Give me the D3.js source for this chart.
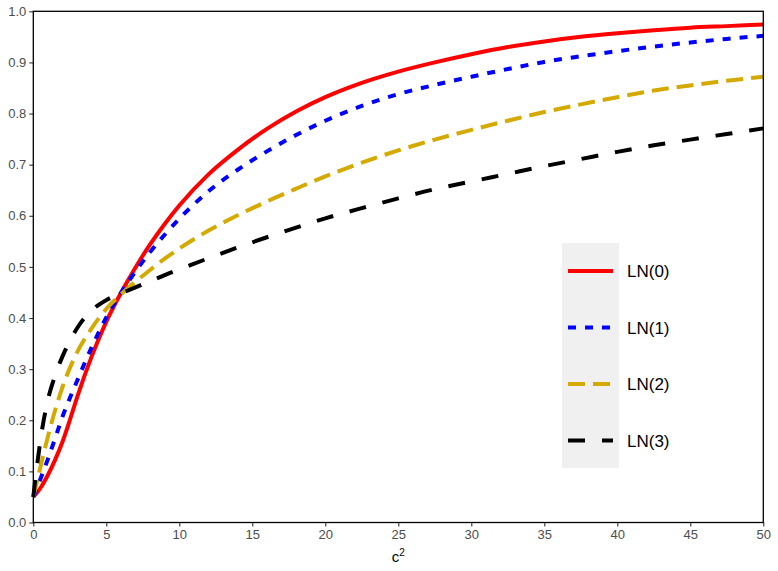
<!DOCTYPE html>
<html>
<head>
<meta charset="utf-8">
<script src="https://cdn.jsdelivr.net/npm/d3@7"></script>
<style>
  body { margin: 0; background: #fff; }
  svg { font-family: "Liberation Sans", Arial, sans-serif; }
</style>
</head>
<body>
<div id="chart"></div>
<script>
// c^2 grid shared by all series
const cVals = [0, 0.25, 0.5, 1, 1.5, 2, 2.5, 3, 4, 5, 6, 7, 8, 9, 10, 12, 14, 16, 18, 20,
  22.5, 25, 27.5, 30, 32.5, 35, 37.5, 40, 42.5, 45, 47.5, 50];

const ln0 = [0.05, 0.058, 0.068, 0.093, 0.123, 0.158, 0.2, 0.245, 0.325, 0.393, 0.449, 0.499, 0.544, 0.584, 0.62, 0.681,
  0.729, 0.77, 0.804, 0.832, 0.86, 0.882, 0.9, 0.916, 0.93, 0.941, 0.95, 0.957, 0.963, 0.968, 0.971, 0.974];
const ln1 = [0.05, 0.067, 0.086, 0.124, 0.165, 0.207, 0.243, 0.277, 0.343, 0.401, 0.449, 0.491, 0.529, 0.563, 0.594, 0.648,
  0.69, 0.726, 0.758, 0.786, 0.815, 0.838, 0.856, 0.872, 0.887, 0.901, 0.912, 0.922, 0.931, 0.939, 0.946, 0.952];
const ln2 = [0.05, 0.08, 0.11, 0.168, 0.22, 0.265, 0.302, 0.333, 0.38, 0.418, 0.446, 0.471, 0.494, 0.516, 0.536, 0.571,
  0.601, 0.628, 0.653, 0.677, 0.704, 0.728, 0.749, 0.768, 0.786, 0.803, 0.818, 0.832, 0.845, 0.855, 0.864, 0.872];
const ln3 = [0.05, 0.11, 0.163, 0.24, 0.288, 0.325, 0.355, 0.38, 0.415, 0.435, 0.448, 0.46, 0.472, 0.484, 0.495, 0.517,
  0.538, 0.558, 0.577, 0.595, 0.615, 0.634, 0.652, 0.667, 0.682, 0.697, 0.711, 0.725, 0.738, 0.749, 0.76, 0.771];

const seriesNames = ["LN(0)", "LN(1)", "LN(2)", "LN(3)"];
const seriesVals = [ln0, ln1, ln2, ln3];
const colors = ["#ff0000", "#0000ff", "#d4aa00", "#000000"];
const dashes = [null, "8,9", "17,8", "17,17"];

const xTicks = [0, 5, 10, 15, 20, 25, 30, 35, 40, 45, 50];
const yTicks = [0, 0.1, 0.2, 0.3, 0.4, 0.5, 0.6, 0.7, 0.8, 0.9, 1.0];

const width = 778;
const height = 571;
const panel = { left: 33.3, right: 763.3, top: 11.3, bottom: 522.5 };

const svg = d3.select("#chart")
    .append("svg")
    .attr("width", width)
    .attr("height", height);

const x = d3.scaleLinear().domain([0, 50]).range([panel.left, panel.right]);
const y = d3.scaleLinear().domain([0, 1]).range([panel.bottom, panel.top]);

// axes
const xAxis = svg.append("g")
    .attr("transform", `translate(0,${panel.bottom})`)
    .call(d3.axisBottom(x).tickValues(xTicks).tickSize(4).tickPadding(3).tickFormat(d3.format("d")));
const yAxis = svg.append("g")
    .attr("transform", `translate(${panel.left},0)`)
    .call(d3.axisLeft(y).tickValues(yTicks).tickSize(4).tickPadding(3).tickFormat(d3.format(".1f")));

[xAxis, yAxis].forEach(ax => {
    ax.select(".domain").remove();
    ax.selectAll(".tick line").attr("stroke", "#333").attr("stroke-width", 1.1);
    ax.selectAll(".tick text")
        .attr("fill", "#4d4d4d")
        .style("font-size", "13px")
        .style("font-family", "Liberation Sans, Arial, sans-serif");
});

// lines
const line = d3.line()
    .x(d => x(d[0]))
    .y(d => y(d[1]))
    .curve(d3.curveMonotoneX);

seriesVals.forEach((vals, i) => {
    svg.append("path")
        .datum(cVals.map((c, j) => [c, vals[j]]))
        .attr("fill", "none")
        .attr("stroke", colors[i])
        .attr("stroke-width", 4)
        .attr("stroke-dasharray", dashes[i])
        .attr("d", line);
});

// panel border
svg.append("rect")
    .attr("x", panel.left)
    .attr("y", panel.top)
    .attr("width", panel.right - panel.left)
    .attr("height", panel.bottom - panel.top)
    .attr("fill", "none")
    .attr("stroke", "#000")
    .attr("stroke-width", 1.3);

// x title
const xTitle = svg.append("text")
    .attr("x", (panel.left + panel.right) / 2)
    .attr("y", 562)
    .attr("text-anchor", "middle")
    .style("font-size", "15px")
    .attr("fill", "#000");
xTitle.append("tspan").text("c");
xTitle.append("tspan").attr("dy", -6).style("font-size", "10px").text("2");

// legend
const legend = svg.append("g");
legend.append("rect")
    .attr("x", 562)
    .attr("y", 243)
    .attr("width", 57)
    .attr("height", 225)
    .attr("fill", "#f0f0f0");

const keyY = [271, 327.5, 384, 440.5];
seriesNames.forEach((name, i) => {
    legend.append("line")
        .attr("x1", 568)
        .attr("x2", 613)
        .attr("y1", keyY[i])
        .attr("y2", keyY[i])
        .attr("stroke", colors[i])
        .attr("stroke-width", 4)
        .attr("stroke-dasharray", dashes[i]);
    legend.append("text")
        .attr("x", 627)
        .attr("y", keyY[i])
        .attr("dy", "0.36em")
        .style("font-size", "17px")
        .attr("fill", "#000")
        .text(name);
});
</script>
</body>
</html>
